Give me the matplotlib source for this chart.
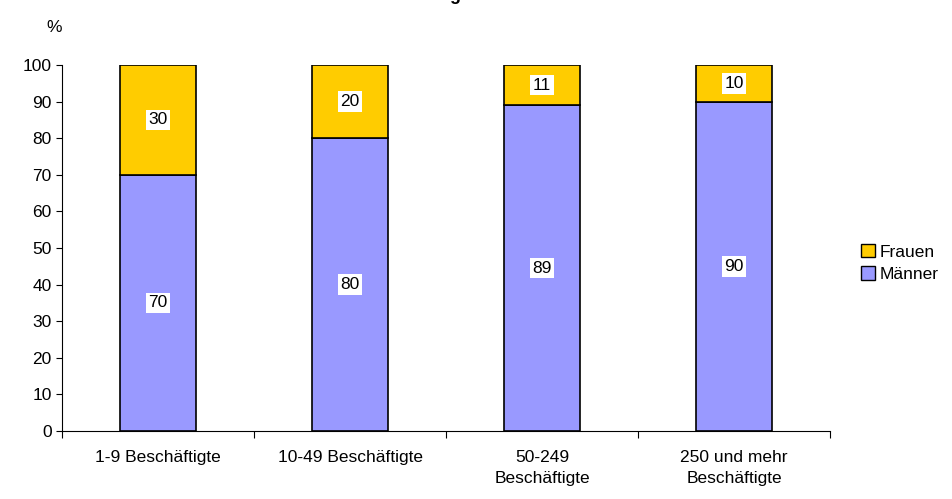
import matplotlib
matplotlib.use("Agg")
import matplotlib.pyplot as plt
from matplotlib.patches import Patch

categories = ["1-9 Beschäftigte", "10-49 Beschäftigte", "50-249\nBeschäftigte", "250 und mehr\nBeschäftigte"]
maenner = [70, 80, 89, 90]
frauen = [30, 20, 11, 10]

plt.rcParams['font.family'] = ['Liberation Sans', 'DejaVu Sans']
fig = plt.figure(figsize=(9.52, 4.99), dpi=100)
ax = fig.add_axes([62/952, 1-431/499, (830-62)/952, (431-65)/499])
x = range(len(categories))
w = 0.4
ax.bar(x, maenner, w, color="#9999FF", edgecolor="black", linewidth=1.2)
ax.bar(x, frauen, w, bottom=maenner, color="#FFCC00", edgecolor="black", linewidth=1.2)
for i in x:
    ax.text(i, maenner[i]/2, str(maenner[i]), ha="center", va="center", fontsize=12.5,
            bbox=dict(facecolor="white", edgecolor="none", pad=2))
    ax.text(i, maenner[i]+frauen[i]/2, str(frauen[i]), ha="center", va="center", fontsize=12.5,
            bbox=dict(facecolor="white", edgecolor="none", pad=2))
ax.set_xlim(-0.5, 3.5)
ax.set_ylim(0, 100)
ax.set_yticks(range(0, 101, 10))
ax.set_xticks([i+0.5 for i in range(-1, 4)], minor=False)
ax.set_xticklabels([])
ax.set_xticks(list(x), minor=True)
ax.set_xticklabels(categories, minor=True, fontsize=12.5, linespacing=1.5)
ax.tick_params(axis="x", which="minor", length=0, pad=14)
ax.tick_params(axis="x", which="major", length=5, direction="out")
ax.tick_params(axis="y", labelsize=12.5, length=4)
for s in ["top", "right"]:
    ax.spines[s].set_visible(False)
fig.text(62/952, 1-28/499, "%", fontsize=12.5, ha="right", va="center")
fig.text(455/952, 1.0, "g", fontsize=13, fontweight="bold", ha="center", va="baseline")
fig.legend(handles=[Patch(facecolor="#FFCC00", edgecolor="black", label="Frauen"),
                    Patch(facecolor="#9999FF", edgecolor="black", label="Männer")],
           loc="center left", bbox_to_anchor=(845/952, 1-263/499), frameon=False,
           fontsize=12.5, handlelength=0.8, handleheight=0.8, handletextpad=0.3, labelspacing=0.4)
fig.savefig("out.png")
